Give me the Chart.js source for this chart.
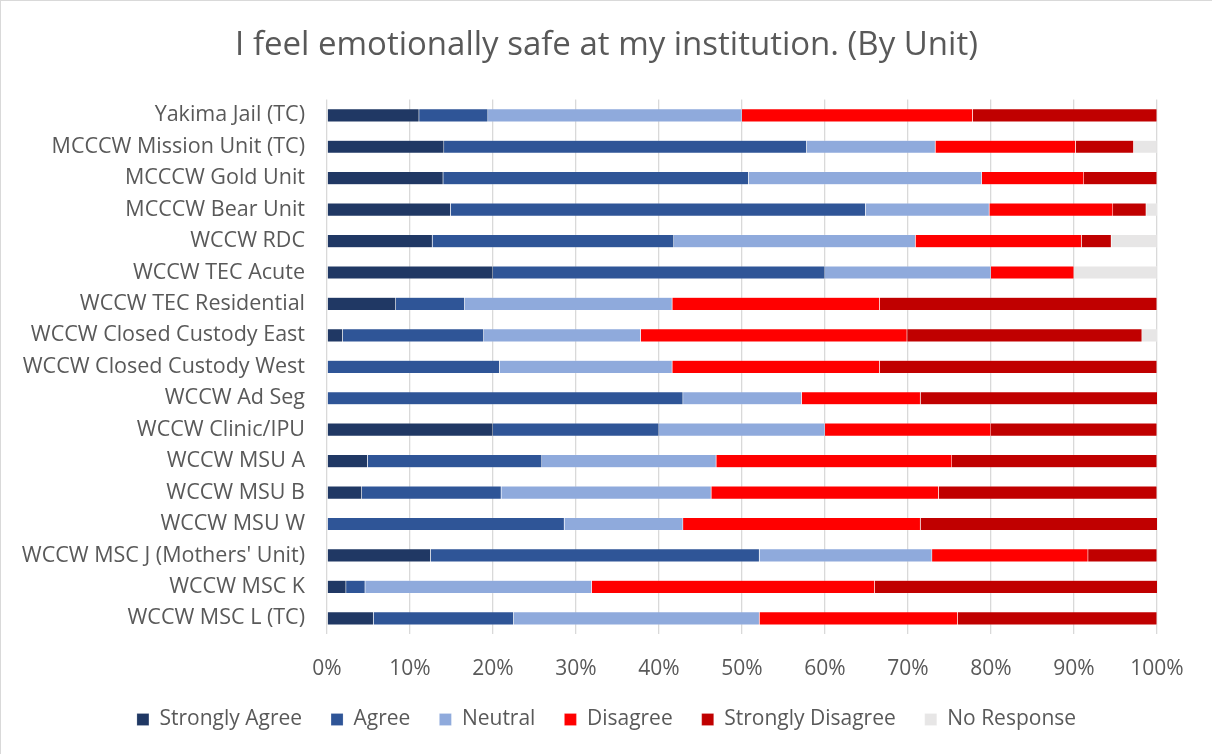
<!DOCTYPE html>
<html>
<head>
<meta charset="utf-8">
<script src="https://cdn.jsdelivr.net/npm/chart.js@4"></script>
<style>
    html, body { margin: 0; padding: 0; background: #fff; }
    #wrap {
        width: 1212px; height: 754px; box-sizing: border-box;
        border-top: 1px solid #d9d9d9; border-left: 1px solid #d9d9d9;
    }
    canvas { display: block; }
</style>
</head>
<body>
<div id="wrap"><canvas id="unitChart" width="1211" height="753"></canvas></div>
<script>
// Units (top to bottom)
const units = [
    'Yakima Jail (TC)', 'MCCCW Mission Unit (TC)', 'MCCCW Gold Unit', 'MCCCW Bear Unit',
    'WCCW RDC', 'WCCW TEC Acute', 'WCCW TEC Residential', 'WCCW Closed Custody East',
    'WCCW Closed Custody West', 'WCCW Ad Seg', 'WCCW Clinic/IPU', 'WCCW MSU A',
    'WCCW MSU B', 'WCCW MSU W', "WCCW MSC J (Mothers' Unit)", 'WCCW MSC K', 'WCCW MSC L (TC)'
];

// Share of responses per unit (%)
const stronglyAgree    = [11.1, 14.1, 14.0, 14.9, 12.7, 20, 8.3, 1.9, 0, 0, 20, 4.9, 4.2, 0, 12.5, 2.3, 5.6];
const agree            = [8.3, 43.7, 36.8, 50.0, 29.1, 40, 8.3, 17.0, 20.8, 42.9, 20, 21.0, 16.8, 28.6, 39.6, 2.3, 16.9];
const neutral          = [30.6, 15.5, 28.1, 14.9, 29.1, 20, 25.0, 18.9, 20.8, 14.3, 20, 21.0, 25.3, 14.3, 20.8, 27.3, 29.6];
const disagree         = [27.8, 16.9, 12.3, 14.9, 20.0, 10, 25.0, 32.1, 25.0, 14.3, 20, 28.4, 27.4, 28.6, 18.8, 34.1, 23.9];
const stronglyDisagree = [22.2, 7.0, 8.8, 4.0, 3.6, 0, 33.4, 28.3, 33.4, 28.6, 20, 24.7, 26.3, 28.6, 8.3, 34.1, 24.0];
const noResponse       = [0, 2.8, 0, 1.4, 5.5, 10, 0, 1.9, 0, 0, 0, 0, 0, 0, 0, 0, 0];

const FONT = "'Open Sans', sans-serif";
const TEXT = '#595959';

function series(label, data, color) {
    return {
        label: label,
        data: data,
        backgroundColor: color,
        borderColor: 'rgba(255,255,255,0.35)',
        borderWidth: 0.5,
        categoryPercentage: 0.42,
        barPercentage: 1.0
    };
}

new Chart(document.getElementById('unitChart'), {
    type: 'bar',
    data: {
        labels: units,
        datasets: [
            series('Strongly Agree', stronglyAgree, '#203864'),
            series('Agree', agree, '#2F5597'),
            series('Neutral', neutral, '#8FAADC'),
            series('Disagree', disagree, '#FF0000'),
            series('Strongly Disagree', stronglyDisagree, '#C00000'),
            series('No Response', noResponse, '#E7E6E6')
        ]
    },
    options: {
        indexAxis: 'y',
        responsive: false,
        animation: false,
        devicePixelRatio: 1,
        layout: { padding: { left: 0, right: 0, top: 0, bottom: 14 } },
        plugins: {
            title: {
                display: true,
                text: 'I feel emotionally safe at my institution. (By Unit)',
                color: TEXT,
                font: { family: FONT, size: 33, weight: 'normal' },
                padding: { top: 25, bottom: 34 }
            },
            legend: {
                position: 'bottom',
                labels: {
                    color: TEXT,
                    font: { family: FONT, size: 21 },
                    boxWidth: 12,
                    boxHeight: 12,
                    padding: 29
                }
            },
            tooltip: { enabled: false }
        },
        scales: {
            x: {
                stacked: true,
                min: 0,
                max: 100,
                afterFit: (scale) => {
                    scale.height = 46;
                    scale.paddingRight = 55;  // keep room on the right like the original
                },
                ticks: {
                    stepSize: 10,
                    color: TEXT,
                    font: { family: FONT, size: 21 },
                    padding: 22,
                    callback: (v) => v + '%'
                },
                grid: { color: '#D9D9D9', lineWidth: 1.3, drawTicks: false },
                border: { display: false }
            },
            y: {
                stacked: true,
                afterFit: (scale) => { scale.width = 326; },
                ticks: {
                    color: TEXT,
                    font: { family: FONT, size: 21.5 },
                    padding: 22,
                    autoSkip: false
                },
                grid: { display: false, drawTicks: false },
                border: { display: false }
            }
        }
    }
});
</script>
</body>
</html>
